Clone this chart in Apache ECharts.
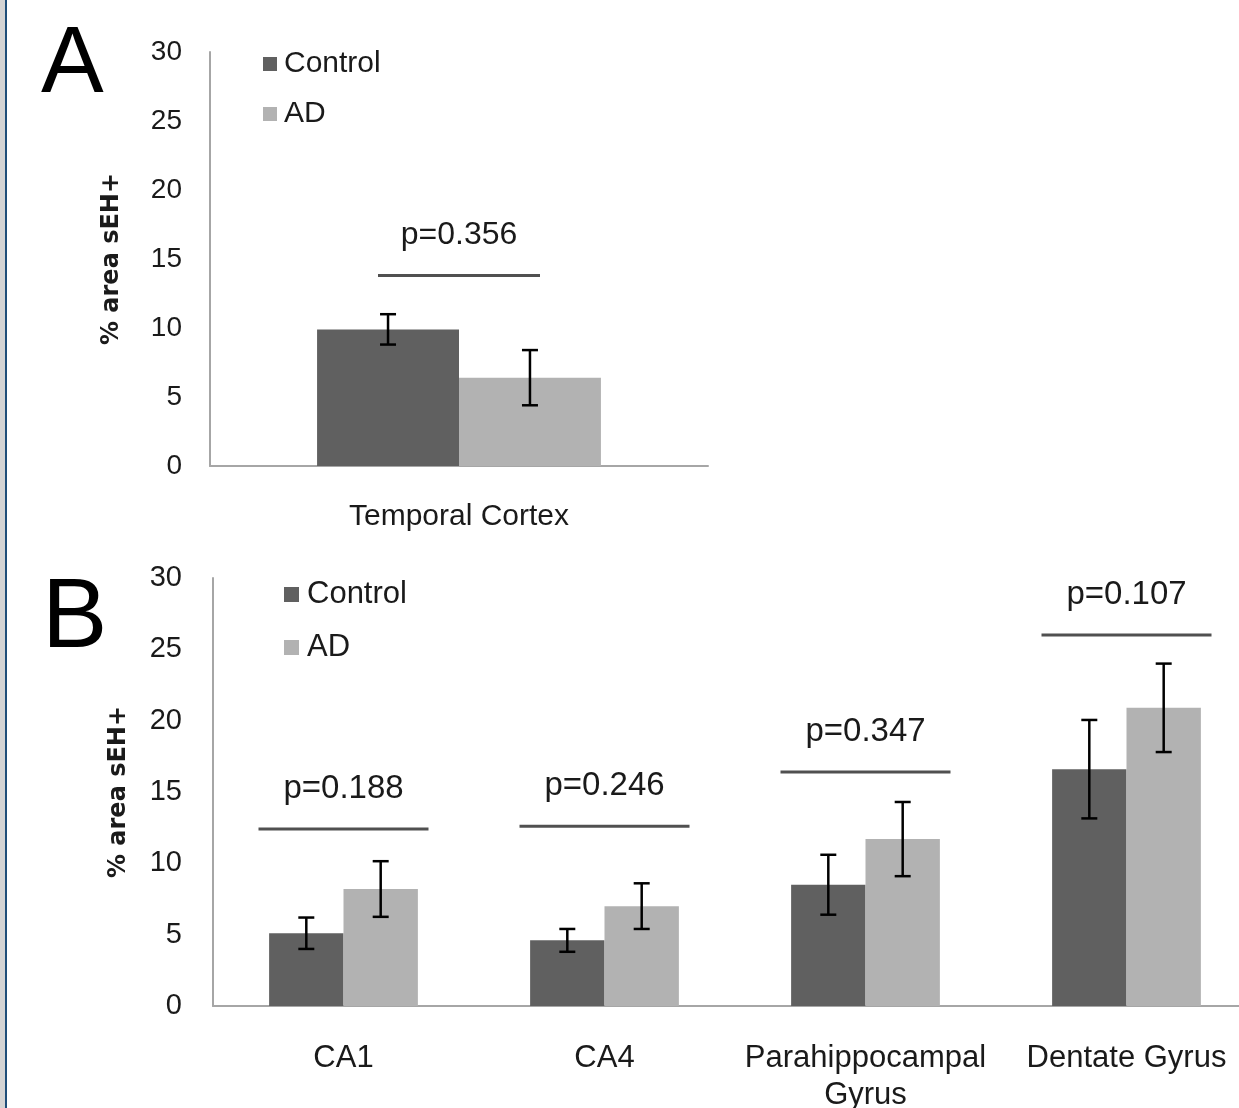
<!DOCTYPE html>
<html>
<head>
<meta charset="utf-8">
<script src="https://cdn.jsdelivr.net/npm/echarts@6/dist/echarts.min.js"></script>
<style>
    html, body { margin: 0; padding: 0; background: #fff; }
    #chart { width: 1239px; height: 1108px; }
    #edge { position: absolute; left: 0; top: 0; width: 5px; height: 1108px; background: #d4d4d4; border-right: 2px solid #1f4e79; }
</style>
</head>
<body>
<div id="chart"></div>
<div id="edge"></div>
<script>
// panel A
const regionsA = ['Temporal Cortex']
const controlA = [9.9]
const controlErrA = [1.1]
const adA = [6.4]
const adErrA = [2.0]
const pLabelsA = ['p=0.356']
const pLevelsA = [13.8]

// panel B
const regionsB = ['CA1', 'CA4', 'Parahippocampal\nGyrus', 'Dentate Gyrus']
const controlB = [5.1, 4.6, 8.5, 16.6]
const controlErrB = [1.1, 0.8, 2.1, 3.45]
const adB = [8.2, 7.0, 11.7, 20.9]
const adErrB = [1.95, 1.6, 2.6, 3.1]
const pLabelsB = ['p=0.188', 'p=0.246', 'p=0.347', 'p=0.107']
const pLevelsB = [12.4, 12.6, 16.4, 26.0]

// shared y scale
const yMin = 0
const yMax = 30
const yStep = 5
const yTitle = '% area sEH+'

const FONT = 'Liberation Sans, Arial, sans-serif'
const TEXT = '#1a1a1a'
const GAP = 0.43

const chart = echarts.init(document.getElementById('chart'))

function errorBars(sign) {
    return function (params, api) {
        const band = api.size([1, 0])[0]
        const barW = band * (1 - GAP) / 2
        const x = api.coord([api.value(0), 0])[0] + sign * barW / 2
        const top = api.coord([api.value(0), api.value(1) + api.value(2)])[1]
        const bot = api.coord([api.value(0), api.value(1) - api.value(2)])[1]
        const style = { stroke: '#000', lineWidth: 2.5 }
        return {
            type: 'group',
            children: [
                { type: 'line', shape: { x1: x, y1: top, x2: x, y2: bot }, style },
                { type: 'line', shape: { x1: x - 8, y1: top, x2: x + 8, y2: top }, style },
                { type: 'line', shape: { x1: x - 8, y1: bot, x2: x + 8, y2: bot }, style }
            ]
        }
    }
}

function bracket(halfW, labels, fontSize) {
    return function (params, api) {
        const p = api.coord([api.value(0), api.value(1)])
        return {
            type: 'group',
            children: [
                { type: 'line', shape: { x1: p[0] - halfW, y1: p[1], x2: p[0] + halfW, y2: p[1] },
                  style: { stroke: '#505050', lineWidth: 3 } },
                { type: 'text', x: p[0], y: p[1] - 40,
                  style: { text: labels[params.dataIndex], fill: TEXT, font: fontSize + 'px ' + FONT,
                           align: 'center', verticalAlign: 'middle' } }
            ]
        }
    }
}

function yAxisFor(grid, fs, margin, gap) {
    return {
        gridIndex: grid, type: 'value', min: yMin, max: yMax, interval: yStep,
        name: yTitle, nameLocation: 'middle', nameRotate: 90, nameGap: gap,
        nameTextStyle: { fontFamily: 'DejaVu Sans', fontWeight: 'bold', fontSize: 24, color: TEXT },
        axisLine: { show: true, lineStyle: { color: '#a6a6a6', width: 2 } },
        axisTick: { show: false },
        splitLine: { show: false },
        axisLabel: { fontFamily: FONT, fontSize: fs, color: TEXT, margin: margin }
    }
}

function xAxisFor(grid, cats, fs, margin) {
    return {
        gridIndex: grid, type: 'category', data: cats,
        axisLine: { lineStyle: { color: '#a6a6a6', width: 2 } },
        axisTick: { show: false },
        axisLabel: { fontFamily: FONT, fontSize: fs, color: TEXT, margin: margin, lineHeight: 37, interval: 0 }
    }
}

const option = {
    animation: false,
    backgroundColor: '#fff',
    title: [
        { text: 'A', left: 36, top: 14, textStyle: { fontFamily: FONT, fontWeight: 'normal', fontSize: 94, color: '#000' } },
        { text: 'B', left: 37, top: 566, textStyle: { fontFamily: FONT, fontWeight: 'normal', fontSize: 98, color: '#000' } }
    ],
    legend: [
        { data: ['Control', 'AD'], orient: 'vertical', left: 258, top: 44, icon: 'rect',
          itemWidth: 14, itemHeight: 14, itemGap: 20,
          textStyle: { fontFamily: FONT, fontSize: 30, color: TEXT, lineHeight: 30, padding: [0, 0, 0, 2] } },
        { data: ['Control', 'AD'], orient: 'vertical', left: 279, top: 574, icon: 'rect',
          itemWidth: 15, itemHeight: 15, itemGap: 22,
          textStyle: { fontFamily: FONT, fontSize: 31, color: TEXT, lineHeight: 31, padding: [0, 0, 0, 3] } }
    ],
    grid: [
        { left: 210, top: 52, width: 498, height: 414, outerBoundsMode: 'none' },
        { left: 213, top: 578, width: 1044, height: 428, outerBoundsMode: 'none' }
    ],
    xAxis: [
        xAxisFor(0, regionsA, 30, 32),
        xAxisFor(1, regionsB, 31, 34)
    ],
    yAxis: [
        yAxisFor(0, 28, 28, 86),
        yAxisFor(1, 29, 31, 82)
    ],
    series: [
        { name: 'Control', type: 'bar', xAxisIndex: 0, yAxisIndex: 0, data: controlA,
          barGap: '0%', barCategoryGap: '43%', itemStyle: { color: '#606060' } },
        { name: 'AD', type: 'bar', xAxisIndex: 0, yAxisIndex: 0, data: adA,
          itemStyle: { color: '#b2b2b2' } },
        { name: 'Control', type: 'bar', xAxisIndex: 1, yAxisIndex: 1, data: controlB,
          barGap: '0%', barCategoryGap: '43%', itemStyle: { color: '#606060' } },
        { name: 'AD', type: 'bar', xAxisIndex: 1, yAxisIndex: 1, data: adB,
          itemStyle: { color: '#b2b2b2' } },
        { type: 'custom', xAxisIndex: 0, yAxisIndex: 0, renderItem: errorBars(-1), z: 5,
          data: controlA.map((v, i) => [i, v, controlErrA[i]]) },
        { type: 'custom', xAxisIndex: 0, yAxisIndex: 0, renderItem: errorBars(1), z: 5,
          data: adA.map((v, i) => [i, v, adErrA[i]]) },
        { type: 'custom', xAxisIndex: 1, yAxisIndex: 1, renderItem: errorBars(-1), z: 5,
          data: controlB.map((v, i) => [i, v, controlErrB[i]]) },
        { type: 'custom', xAxisIndex: 1, yAxisIndex: 1, renderItem: errorBars(1), z: 5,
          data: adB.map((v, i) => [i, v, adErrB[i]]) },
        { type: 'custom', xAxisIndex: 0, yAxisIndex: 0, renderItem: bracket(81, pLabelsA, 32),
          data: pLevelsA.map((v, i) => [i, v]) },
        { type: 'custom', xAxisIndex: 1, yAxisIndex: 1, renderItem: bracket(85, pLabelsB, 33),
          data: pLevelsB.map((v, i) => [i, v]) }
    ]
}

chart.setOption(option)
</script>
</body>
</html>
